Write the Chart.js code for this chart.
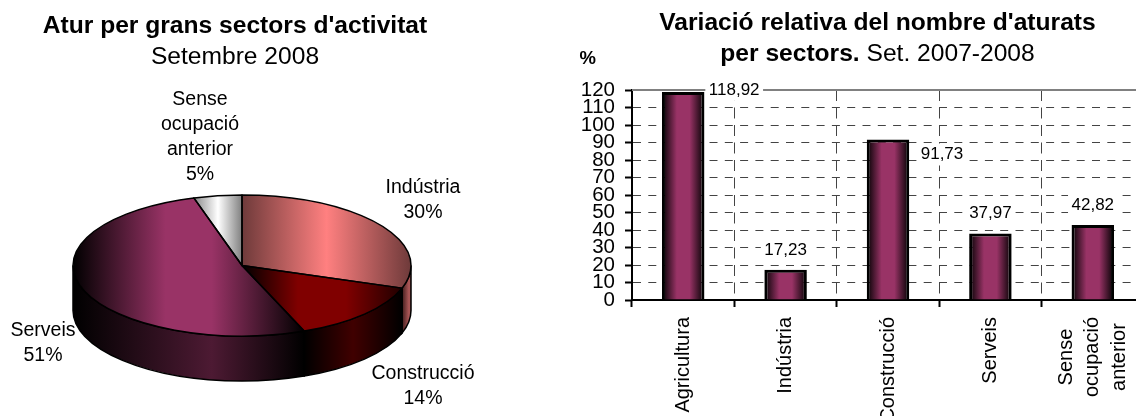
<!DOCTYPE html>
<html>
<head>
<meta charset="utf-8">
<title>Atur per sectors</title>
<script src="https://cdn.jsdelivr.net/npm/chart.js@4/dist/chart.umd.min.js"></script>
<style>
  html, body { margin: 0; padding: 0; background: #fff; overflow: hidden; }
  canvas { position: absolute; top: 0; }
  #pie { left: 0; }
  #bars { left: 540px; }
</style>
</head>
<body>
<canvas id="pie" width="540" height="416"></canvas>
<canvas id="bars" width="620" height="416"></canvas>
<script>
// data
let pieLabels = [['Indústria'], ['Construcció'], ['Serveis'], ['Sense', 'ocupació', 'anterior']];
let pieValues = [30.2, 13.8, 51.4, 4.6];
let barLabels = [['Agricultura'], ['Indústria'], ['Construcció'], ['Serveis'], ['Sense', 'ocupació', 'anterior']];
let barValues = [118.92, 17.23, 91.73, 37.97, 42.82];
let barTexts = ['118,92', '17,23', '91,73', '37,97', '42,82'];

const FONT = '"Liberation Sans", Arial, sans-serif';

// pie look
let faceStops = [
  [[0, '#6e3a3a'], [0.5, '#ff8080'], [1, '#6e3a3a']],
  [[0, '#000000'], [0.35, '#800000'], [0.65, '#800000'], [1, '#200000']],
  [[0, '#000000'], [0.4, '#993366'], [0.6, '#993366'], [1, '#000000']],
  [[0, '#888888'], [0.5, '#ffffff'], [1, '#808080']]
];
let wallStops = [
  [[0, '#401c1c'], [0.8, '#b05a5a'], [1, '#804040']],
  [[0, '#000000'], [0.5, '#400000'], [1, '#000000']],
  [[0, '#000000'], [0.6, '#4d1a33'], [1, '#000000']],
  [[0, '#000000'], [1, '#000000']]
];
let pieCenterY = 265.5;
let pieTilt = 70.5 / 169;
let pieDepth = 45;
let pieLabelSpots = [[423, 188], [423, 374], [43, 330.5], [200, 100]];

function text(ctx, str, x, y, font, align) {
  ctx.font = font;
  ctx.fillStyle = '#000';
  ctx.textAlign = align || 'center';
  ctx.textBaseline = 'middle';
  ctx.fillText(str, x, y);
}

function makeGradient(ctx, x0, x1, stops) {
  let g = ctx.createLinearGradient(x0, 0, x1, 0);
  stops.forEach(s => g.addColorStop(s[0], s[1]));
  return g;
}

// x range of a slice between two angles (radians, canvas convention)
function angleExtent(a0, a1, cx, r, withCenter) {
  let xs = [cx + r * Math.cos(a0), cx + r * Math.cos(a1)];
  if (withCenter) xs.push(cx);
  for (let k = -2; k <= 4; k++) {
    let a = k * Math.PI;
    if (a > a0 && a < a1) xs.push(cx + r * Math.cos(a));
  }
  return [Math.min(...xs), Math.max(...xs)];
}

function faceColor(c) {
  let chart = c.chart;
  if (!chart.chartArea) return '#000';
  let area = chart.chartArea;
  let cx = (area.left + area.right) / 2;
  let r = (area.right - area.left) / 2;
  let total = pieValues.reduce((a, b) => a + b, 0);
  let before = pieValues.slice(0, c.dataIndex).reduce((a, b) => a + b, 0);
  let a0 = -Math.PI / 2 + before / total * Math.PI * 2;
  let a1 = a0 + pieValues[c.dataIndex] / total * Math.PI * 2;
  let ext = angleExtent(a0, a1, cx, r, true);
  return makeGradient(chart.ctx, ext[0], ext[1], faceStops[c.dataIndex]);
}

let pie3d = {
  id: 'pie3d',
  beforeDatasetDraw(chart) {
    let ctx = chart.ctx;
    let arcs = chart.getDatasetMeta(0).data;
    let cx = arcs[0].x, r = arcs[0].outerRadius, ry = r * pieTilt;
    ctx.save();
    ctx.lineWidth = 1.5;
    ctx.strokeStyle = '#000';
    // side walls, only the part of the rim facing us
    arcs.forEach((arc, i) => {
      let a0 = arc.startAngle, a1 = Math.min(arc.endAngle, Math.PI);
      a0 = Math.max(a0, 0);
      if (a1 <= a0) return;
      let ext = angleExtent(a0, a1, cx, r, false);
      ctx.beginPath();
      ctx.ellipse(cx, pieCenterY, r, ry, 0, a0, a1);
      ctx.ellipse(cx, pieCenterY + pieDepth, r, ry, 0, a1, a0, true);
      ctx.closePath();
      ctx.fillStyle = makeGradient(ctx, ext[0], ext[1], wallStops[i]);
      ctx.fill();
      ctx.stroke();
    });
    ctx.restore();
    // top face: the library's arcs, squashed into an ellipse
    ctx.save();
    ctx.translate(cx, pieCenterY);
    ctx.scale(1, pieTilt);
    ctx.translate(-cx, -arcs[0].y);
  },
  afterDatasetDraw(chart) {
    let ctx = chart.ctx;
    ctx.restore();
    let arcs = chart.getDatasetMeta(0).data;
    let cx = arcs[0].x, r = arcs[0].outerRadius, ry = r * pieTilt;
    ctx.save();
    ctx.lineWidth = 1.5;
    ctx.strokeStyle = '#000';
    ctx.lineJoin = 'round';
    arcs.forEach(arc => {
      ctx.beginPath();
      ctx.moveTo(cx, pieCenterY);
      ctx.ellipse(cx, pieCenterY, r, ry, 0, arc.startAngle, arc.endAngle);
      ctx.closePath();
      ctx.stroke();
    });
    ctx.restore();
  },
  afterDraw(chart) {
    let ctx = chart.ctx;
    text(ctx, "Atur per grans sectors d'activitat", 235, 26.5, 'bold 24.6px ' + FONT);
    text(ctx, 'Setembre 2008', 235, 57.5, '24.6px ' + FONT);
    pieLabels.forEach((lines, i) => {
      let spot = pieLabelSpots[i];
      let all = lines.concat(Math.round(pieValues[i]) + '%');
      all.forEach((s, n) => text(ctx, s, spot[0], spot[1] + n * 25, '19.5px ' + FONT));
    });
  }
};

new Chart(document.getElementById('pie').getContext('2d'), {
  type: 'pie',
  data: {
    labels: pieLabels.map(l => l.join(' ')),
    datasets: [{
      data: pieValues,
      backgroundColor: faceColor,
      borderWidth: 0
    }]
  },
  options: {
    responsive: false,
    animation: false,
    events: [],
    layout: { padding: { left: 73, right: 129, top: 39, bottom: 39 } },
    plugins: { legend: { display: false }, tooltip: { enabled: false } }
  },
  plugins: [pie3d]
});

// bar chart
function barColor(c) {
  let chart = c.chart;
  if (!chart.chartArea) return '#993366';
  let x = chart.scales.x;
  let w = x.width / barLabels.length * 0.415;
  let mid = x.getPixelForValue(c.dataIndex);
  return makeGradient(chart.ctx, mid - w / 2, mid + w / 2, [[0, '#000000'], [0.35, '#993366'], [0.65, '#993366'], [1, '#000000']]);
}

// where each value label sits, relative to the top centre of its bar
let labelOffsets = [[51, -2], [0, -20], [54, 15], [0, -20], [0, -20]];

let barText = {
  id: 'barText',
  beforeDatasetsDraw(chart) {
    let ctx = chart.ctx, area = chart.chartArea;
    let y = chart.scales.y.getPixelForValue(120);
    ctx.save();
    ctx.strokeStyle = '#808080';
    ctx.lineWidth = 2;
    ctx.beginPath();
    ctx.moveTo(area.left, y);
    ctx.lineTo(area.right, y);
    ctx.stroke();
    // white patch under the value labels
    ctx.fillStyle = '#fff';
    ctx.font = '17px ' + FONT;
    chart.getDatasetMeta(0).data.forEach((bar, i) => {
      let w = ctx.measureText(barTexts[i]).width + 7;
      ctx.fillRect(bar.x + labelOffsets[i][0] - w / 2, bar.y + labelOffsets[i][1] - 11, w, 22);
    });
    ctx.restore();
  },
  afterDraw(chart) {
    let ctx = chart.ctx;
    let x = chart.scales.x;
    text(ctx, "Variació relativa del nombre d'aturats", 337.5, 23.2, 'bold 24.6px ' + FONT);
    let boldPart = 'per sectors.', thinPart = ' Set. 2007-2008';
    ctx.font = 'bold 24.6px ' + FONT;
    let w1 = ctx.measureText(boldPart).width;
    ctx.font = '24.6px ' + FONT;
    let w2 = ctx.measureText(thinPart).width;
    let left = 337.5 - (w1 + w2) / 2;
    text(ctx, boldPart, left, 54.5, 'bold 24.6px ' + FONT, 'left');
    text(ctx, thinPart, left + w1, 54.5, '24.6px ' + FONT, 'left');
    text(ctx, '%', 47.7, 59.3, 'bold 18.5px ' + FONT);
    chart.getDatasetMeta(0).data.forEach((bar, i) => {
      text(ctx, barTexts[i], bar.x + labelOffsets[i][0], bar.y + labelOffsets[i][1], '17px ' + FONT);
    });
    // category labels, rotated and centred as one block
    ctx.font = '20px ' + FONT;
    barLabels.forEach((lines, i) => {
      let widest = Math.max(...lines.map(s => ctx.measureText(s).width));
      lines.forEach((s, n) => {
        ctx.save();
        ctx.translate(x.getPixelForTick(i) + (n - (lines.length - 1) / 2) * 26.5, 317 + widest / 2);
        ctx.rotate(-Math.PI / 2);
        text(ctx, s, 0, 0, '20px ' + FONT);
        ctx.restore();
      });
    });
  }
};

new Chart(document.getElementById('bars').getContext('2d'), {
  type: 'bar',
  data: {
    labels: barLabels,
    datasets: [{
      data: barValues,
      backgroundColor: barColor,
      borderColor: '#000',
      borderWidth: 3,
      barPercentage: 0.415,
      categoryPercentage: 1
    }]
  },
  options: {
    responsive: false,
    animation: false,
    events: [],
    layout: { padding: { left: 0, right: 16, top: 90, bottom: 109 } },
    plugins: { legend: { display: false }, tooltip: { enabled: false } },
    scales: {
      x: {
        offset: true,
        grid: { offset: true, color: '#444', lineWidth: 1, tickColor: '#000', tickWidth: 2, tickLength: 7 },
        border: { color: '#000', width: 2, dash: [11, 6.5] },
        ticks: { display: false }
      },
      y: {
        min: 0,
        max: 120,
        afterFit(scale) { scale.width = 92; },
        grid: { color: '#444', lineWidth: 1, tickColor: '#000', tickWidth: 2, tickLength: 7 },
        border: { color: '#000', width: 2, dash: [8, 7.3] },
        ticks: { stepSize: 10, autoSkip: false, color: '#000', padding: 10, font: { family: FONT, size: 20.5 } }
      }
    }
  },
  plugins: [barText]
});
</script>
</body>
</html>
